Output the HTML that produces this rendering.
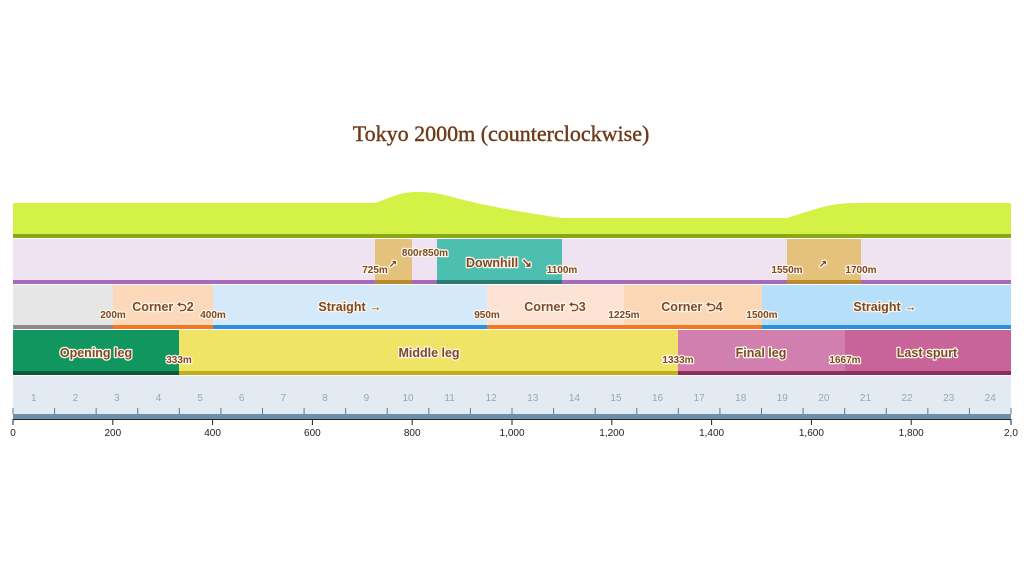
<!DOCTYPE html>
<html><head><meta charset="utf-8"><style>
html,body{margin:0;padding:0;background:#fff;width:1024px;height:576px;overflow:hidden}
svg text{font-family:"Liberation Sans",sans-serif;font-weight:bold;fill:#7a4a2a}
.h{paint-order:stroke;stroke:#fff6e8;stroke-width:2.5px;stroke-linejoin:round}
.s{font-size:10px}
.m{font-size:12.5px}
.lap{font-size:10px;fill:#9aa6b4;font-weight:normal}
.ax{font-size:10px;fill:#222;font-weight:normal}
</style></head><body>
<svg width="1024" height="576" viewBox="0 0 1024 576" xmlns="http://www.w3.org/2000/svg">
<text x="501" y="141" text-anchor="middle" style="font-family:'Liberation Serif',serif;font-weight:normal;font-size:22px;fill:#6e3a18;stroke:#6e3a18;stroke-width:0.4px">Tokyo 2000m (counterclockwise)</text>
<!-- elevation -->
<path d="M13 203 L375 203 C390 198 400 192 415 192 C430 192 435 193 445 195 C480 205 520 212 562 218 L787 218 C800 214 820 207 832 205 C845 203 850 203 861 203 L1011 203 L1011 235 L13 235 Z" fill="#d4f146"/>
<rect x="13" y="234" width="998" height="4" fill="#8aa716"/>
<!-- slope row -->
<rect x="13" y="239" width="998" height="42" fill="#efe3f1"/>
<rect x="375" y="239" width="37" height="42" fill="#e4c27c"/>
<rect x="437" y="239" width="125" height="42" fill="#4dbfb0"/>
<rect x="787" y="239" width="74" height="42" fill="#e4c27c"/>
<rect x="13" y="280" width="998" height="4" fill="#a86ab8"/>
<rect x="375" y="280" width="37" height="4" fill="#b98a2e"/>
<rect x="437" y="280" width="125" height="4" fill="#2a7c72"/>
<rect x="787" y="280" width="74" height="4" fill="#b98a2e"/>
<text class="s h" x="375" y="273" text-anchor="middle">725m</text>
<text class="s h" x="393" y="267" text-anchor="middle">↗</text>
<text class="s h" x="425" y="256" text-anchor="middle">800r850m</text>
<text class="m h" x="499" y="267" text-anchor="middle">Downhill ↘</text>
<text class="s h" x="562" y="273" text-anchor="middle">1100m</text>
<text class="s h" x="787" y="273" text-anchor="middle">1550m</text>
<text class="s h" x="823" y="267" text-anchor="middle">↗</text>
<text class="s h" x="861" y="273" text-anchor="middle">1700m</text>
<!-- corner row -->
<rect x="13" y="285" width="998" height="41" fill="#e6e6e6"/>
<rect x="113" y="285" width="100" height="41" fill="#fdd9bb"/>
<rect x="213" y="285" width="274" height="41" fill="#d4eafb"/>
<rect x="487" y="285" width="137" height="41" fill="#fde3d3"/>
<rect x="624" y="285" width="138" height="41" fill="#fcd7b5"/>
<rect x="762" y="285" width="249" height="41" fill="#b5dffa"/>
<rect x="13" y="325" width="100" height="4" fill="#8b8b8b"/>
<rect x="113" y="325" width="100" height="4" fill="#f07820"/>
<rect x="213" y="325" width="274" height="4" fill="#2b8fe0"/>
<rect x="487" y="325" width="275" height="4" fill="#f07820"/>
<rect x="762" y="325" width="249" height="4" fill="#2b8fe0"/>
<text class="s h" x="113" y="318" text-anchor="middle">200m</text>
<text class="m h" x="163" y="311" text-anchor="middle">Corner ⮌2</text>
<text class="s h" x="213" y="318" text-anchor="middle">400m</text>
<text class="m h" x="350" y="311" text-anchor="middle">Straight →</text>
<text class="s h" x="487" y="318" text-anchor="middle">950m</text>
<text class="m h" x="555" y="311" text-anchor="middle">Corner ⮌3</text>
<text class="s h" x="624" y="318" text-anchor="middle">1225m</text>
<text class="m h" x="692" y="311" text-anchor="middle">Corner ⮌4</text>
<text class="s h" x="762" y="318" text-anchor="middle">1500m</text>
<text class="m h" x="885" y="311" text-anchor="middle">Straight →</text>
<!-- phase row -->
<rect x="13" y="330" width="166" height="42" fill="#12965f"/>
<rect x="179" y="330" width="499" height="42" fill="#f0e466"/>
<rect x="678" y="330" width="167" height="42" fill="#d07fae"/>
<rect x="845" y="330" width="166" height="42" fill="#c9649a"/>
<rect x="13" y="371" width="166" height="4" fill="#0b5a3a"/>
<rect x="179" y="371" width="499" height="4" fill="#bfae1e"/>
<rect x="678" y="371" width="333" height="4" fill="#8c2c62"/>
<text class="m h" x="96" y="357" text-anchor="middle">Opening leg</text>
<text class="s h" x="179" y="363" text-anchor="middle">333m</text>
<text class="m h" x="429" y="357" text-anchor="middle">Middle leg</text>
<text class="s h" x="678" y="363" text-anchor="middle">1333m</text>
<text class="m h" x="761" y="357" text-anchor="middle">Final leg</text>
<text class="s h" x="845" y="363" text-anchor="middle">1667m</text>
<text class="m h" x="927" y="357" text-anchor="middle">Last spurt</text>
<!-- lap row -->
<rect x="13" y="376" width="998" height="38" fill="#e3eaf1"/>
<rect x="13" y="414" width="998" height="5" fill="#6e8eaa"/>
<line x1="13" y1="419.5" x2="1011" y2="419.5" stroke="#222" stroke-width="1"/>
<g id="laps"></g>
<g id="ax"></g>
</svg>
<script>
var g=document.getElementById('laps'),a=document.getElementById('ax'),ns='http://www.w3.org/2000/svg';
function X(m){return 13+m*0.499;}
for(var i=0;i<=24;i++){var x=X(i*2000/24);
var l=document.createElementNS(ns,'line');l.setAttribute('x1',x);l.setAttribute('x2',x);l.setAttribute('y1',408);l.setAttribute('y2',414);l.setAttribute('stroke','#5d7a96');l.setAttribute('stroke-width','1');g.appendChild(l);
if(i<24){var t=document.createElementNS(ns,'text');t.setAttribute('x',X((i+0.5)*2000/24));t.setAttribute('y',401);t.setAttribute('text-anchor','middle');t.setAttribute('class','lap');t.textContent=i+1;g.appendChild(t);}}
var labs=['0','200','400','600','800','1,000','1,200','1,400','1,600','1,800','2,0'];
for(var j=0;j<=10;j++){var x=X(j*200);
var l=document.createElementNS(ns,'line');l.setAttribute('x1',x);l.setAttribute('x2',x);l.setAttribute('y1',419);l.setAttribute('y2',425);l.setAttribute('stroke','#222');a.appendChild(l);
var t=document.createElementNS(ns,'text');t.setAttribute('x',j==10?1004:x);t.setAttribute('y',436);t.setAttribute('text-anchor',j==10?'start':'middle');t.setAttribute('class','ax');t.textContent=labs[j];a.appendChild(t);}
</script>
</body></html>
